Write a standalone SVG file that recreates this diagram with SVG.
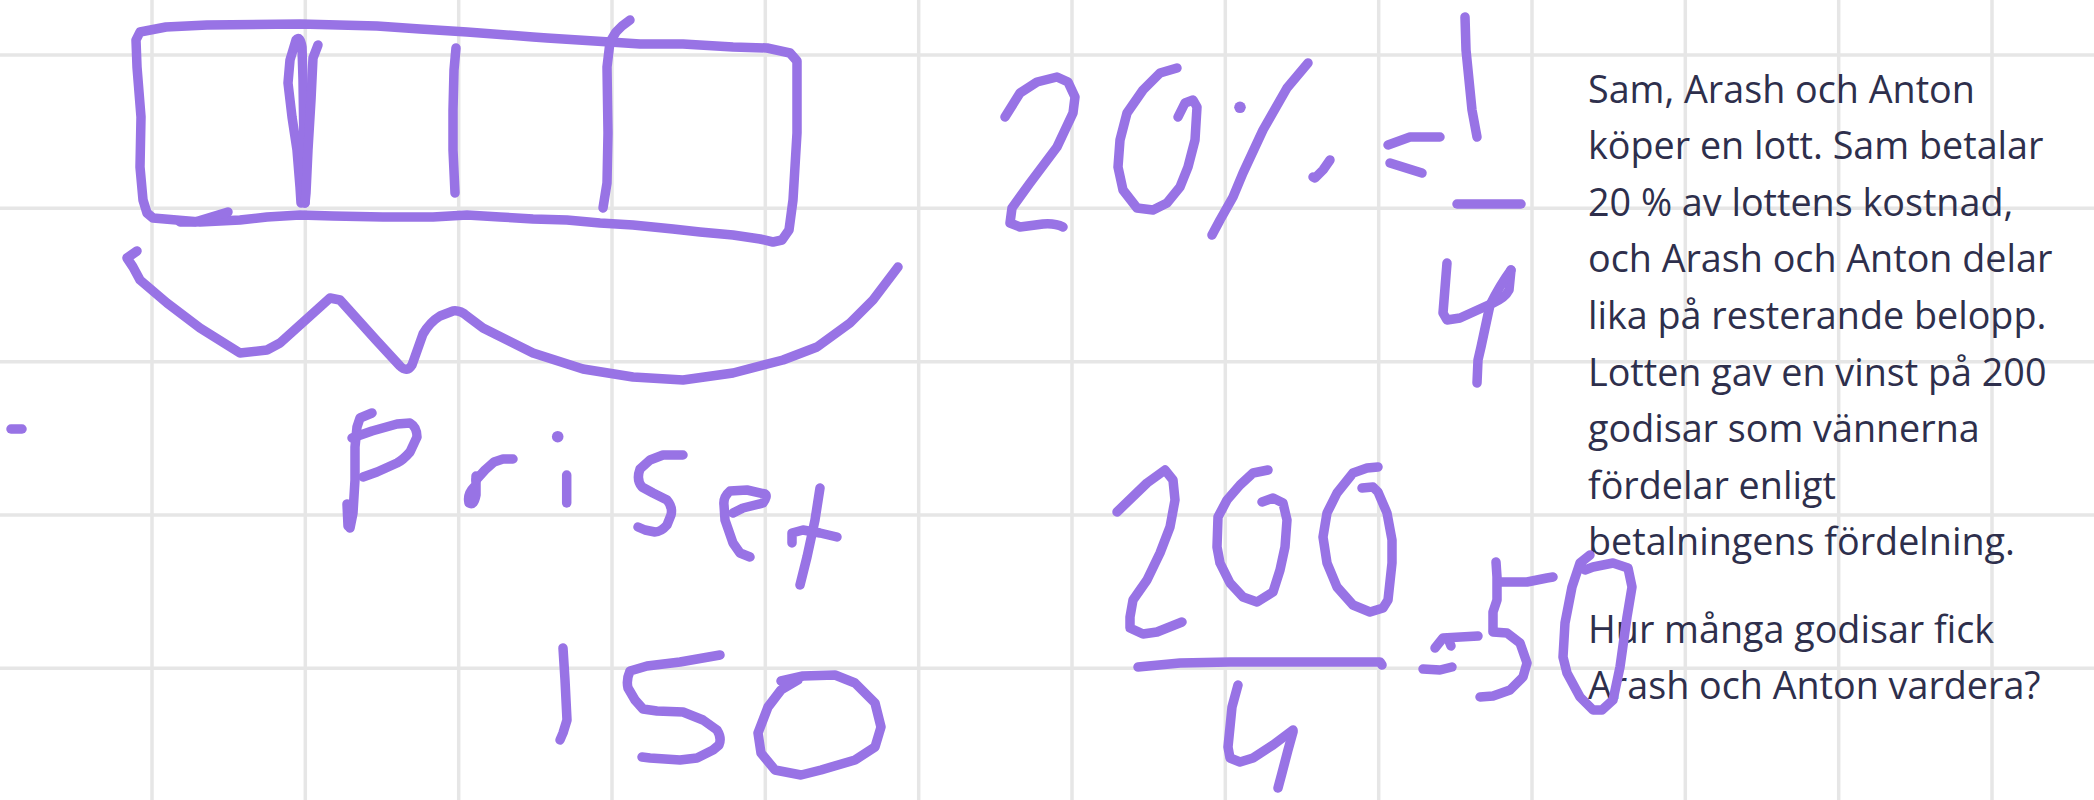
<svg xmlns="http://www.w3.org/2000/svg" width="2094" height="800" viewBox="0 0 2094 800">
<style>
.grid line{stroke:#e6e6e6;stroke-width:3.5}
.ink{fill:none;stroke:#9873e5;stroke-width:9.5;stroke-linecap:round;stroke-linejoin:round}
.dot{fill:#9873e5}
.q{font-family:"Open Sans","Noto Sans",sans-serif;font-size:37.7px;fill:#2e2f4c}
</style>
<rect width="2094" height="800" fill="#ffffff"/>
<g id="grid" class="grid">
<line x1="152" y1="0" x2="152" y2="800"/><line x1="305.3" y1="0" x2="305.3" y2="800"/><line x1="458.7" y1="0" x2="458.7" y2="800"/><line x1="612" y1="0" x2="612" y2="800"/><line x1="765.3" y1="0" x2="765.3" y2="800"/><line x1="918.7" y1="0" x2="918.7" y2="800"/><line x1="1072" y1="0" x2="1072" y2="800"/><line x1="1225.3" y1="0" x2="1225.3" y2="800"/><line x1="1378.7" y1="0" x2="1378.7" y2="800"/><line x1="1532" y1="0" x2="1532" y2="800"/><line x1="1685.3" y1="0" x2="1685.3" y2="800"/><line x1="1838.7" y1="0" x2="1838.7" y2="800"/><line x1="1992" y1="0" x2="1992" y2="800"/>
<line x1="0" y1="55" x2="2094" y2="55"/><line x1="0" y1="208.3" x2="2094" y2="208.3"/><line x1="0" y1="361.7" x2="2094" y2="361.7"/><line x1="0" y1="515" x2="2094" y2="515"/><line x1="0" y1="668.3" x2="2094" y2="668.3"/>
</g>
<g id="problem-text">
<text class="q" x="1588">
<tspan x="1588" y="102.5">Sam, Arash och Anton</tspan>
<tspan x="1588" y="159.1">köper en lott. Sam betalar</tspan>
<tspan x="1588" y="215.7">20 % av lottens kostnad,</tspan>
<tspan x="1588" y="272.3">och Arash och Anton delar</tspan>
<tspan x="1588" y="328.9">lika på resterande belopp.</tspan>
<tspan x="1588" y="385.5">Lotten gav en vinst på 200</tspan>
<tspan x="1588" y="442.1">godisar som vännerna</tspan>
<tspan x="1588" y="498.7">fördelar enligt</tspan>
<tspan x="1588" y="555.3">betalningens fördelning.</tspan>
<tspan x="1588" y="642.6">Hur många godisar fick</tspan>
<tspan x="1588" y="699.2">Arash och Anton vardera?</tspan>
</text>
</g>
<g id="bar-model" class="ink">
<path d="M166,27 L207,25 L300,24 L377,26 L420,29 L467,32 L533,37 L547,38 L610,42 L640,44 L683,44 L733,47 L767,48 L790,53 L797,61 L797,133 L793,200 L789,230 L782,240 L773,242 L760,239 L733,235 L700,232 L673,229 L633,225 L600,223 L567,220 L533,219 L500,217 L467,215 L433,217 L383,217 L333,216 L300,215 L267,217 L240,220 L200,222 L153,218 L147,213 L143,200 L140,167 L141,117 L137,67 L136,40 L140,32 L166,27"/>
<path d="M180,222 L195,222 L228,212"/>
<path d="M301,203 L300,187 L297,150 L292,117 L288,83 L290,60 L296,40 Q300,35 302,47 L303,80 L304,150 L305,203"/>
<path d="M318,45 L313,58 L311,100 L308,150 L306,193 L305,203"/>
<path d="M456,48 L454,70 L453,110 L453,150 L455,193"/>
<path d="M630,20 L622,26 L616,32 L610,42 L607,67 L608,133 L607,183 L603,208"/>
<path d="M137,251 L127,258 L133,267 L140,280 L167,303 L200,328 L240,353 L267,350 L280,343 L300,325 L330,298 L340,300 L376,340 L400,366 Q407,373 412,365 L423,334 Q430,322 440,316 L453,311 Q460,310 467,316 L483,328 L533,353 L583,369 L633,377 L683,380 L733,373 L783,360 L817,347 L850,323 L873,300 L898,267"/>
</g>
<g id="dot" class="ink"><path d="M11,429 L22,429"/></g>
<g id="word-priset" class="ink">
<path d="M372,413 L360,418 L357,427 L355,447 L355,480 L353,513 L350,528"/>
<path d="M347,504 L348,526"/>
<path d="M352,438 L372,431 L397,424 L410,423 Q417,427 417,437 L410,452 Q403,460 397,463 L377,472 L363,477"/>
<path d="M476,476 L476,495 Q474,506 469,503 Q467,494 474,487"/>
<path d="M476,480 L485,470 L494,462 L503,459 L513,459"/>
<circle class="dot" cx="557.7" cy="436.7" r="5.8" stroke="none"/>
<path d="M566.7,475 L566.7,503"/>
<path d="M683,455 L663,455 L650,460 L640,469 Q636,480 642,487 L653,493 L667,500 Q673,507 671,515 L667,525 Q661,532 655,532 L645,530 L638,527"/>
<path d="M733,513 L743,508 L763,503 Q768,496 765,494 L747,490 L730,491 Q723,497 724,505 L725,520 L733,543 L740,553 L750,557"/>
<path d="M820,488 L815,520 L807,557 L800,585"/>
<path d="M792,543 L792,533 L803,530 L820,533 L837,537"/>
</g>
<g id="number-150" class="ink">
<path d="M563,648 L565,680 L567,720 L563,733 L560,740"/>
<path d="M720,655 L680,662 L647,666 L630,671 Q626,680 628,688 L635,700 L643,709 L657,711 L683,712 L703,720 L717,730 Q722,738 719,745 L713,750 L697,758 L680,760 L650,758 L642,757"/>
<path d="M781,681 L803,676 L835,675 L855,683 L875,703 L881,727 L875,747 L855,760 L821,770 L801,775 L775,770 L761,753 L758,733 L768,707 L781,690 L798,680"/>
</g>
<g id="percent-equation" class="ink">
<path d="M1005,117 L1020,93 L1037,82 L1057,77 L1068,82 L1075,97 L1073,113 L1057,147 L1030,183 L1012,208 L1010,223 L1020,227 L1043,224 Q1055,223 1063,227"/>
<path d="M1177,68 L1160,73 L1143,90 L1127,113 L1120,140 L1118,167 L1123,190 L1137,208 L1153,210 L1167,203 L1180,187 L1188,167 L1195,140 L1197,107 L1193,100 L1185,103 L1178,117"/>
<circle class="dot" cx="1240" cy="107.3" r="5.8" stroke="none"/>
<path d="M1308,63 L1287,88 L1263,130 L1243,173 L1233,197 L1220,220 L1212,235"/>
<path d="M1330,160 L1323,170 L1315,178 L1313,177"/>
<path d="M1388,145 L1410,137 L1440,137"/>
<path d="M1390,163 L1422,173"/>
<path d="M1465,17 L1466,50 L1472,110 L1477,137"/>
<path d="M1457,204 L1521,204"/>
<path d="M1447,263 L1443,313 L1447,320 L1460,318 L1493,303 Q1505,298 1509,290 L1511,270"/>
<path d="M1511,270 Q1500,285 1490,305 L1481,347 L1478,360 L1477,383"/>
</g>
<g id="division-equation" class="ink">
<path d="M1117,512 L1147,483 L1165,470 L1173,480 L1175,500 L1170,527 L1160,553 L1147,580 L1133,600 L1130,617 L1130,628 L1143,634 L1157,632 L1182,622"/>
<path d="M1268,470 L1253,473 L1240,485 L1227,500 L1218,517 L1217,547 L1220,563 L1230,583 L1243,597 L1257,602 L1273,592 L1280,570 L1285,547 L1287,520 L1283,503 L1273,498 L1262,502"/>
<path d="M1378,467 L1367,468 L1353,473 L1337,493 L1327,513 L1323,537 L1327,563 L1337,587 L1353,605 L1370,612 L1383,608 L1388,600 L1392,563 L1392,540 L1387,513 L1378,492 L1373,487 L1362,488"/>
<path d="M1138,667 L1180,663 L1230,662 L1380,662 L1382,665"/>
<path d="M1238,685 L1232,707 L1228,747 L1230,758 L1240,762 L1253,758 L1273,745 L1293,730"/>
<path d="M1293,732 L1288,750 L1282,773 L1278,788"/>
<path d="M1435,648 L1443,638 L1478,636"/>
<path d="M1449,641 L1451,646"/>
<path d="M1423,669 L1440,670 L1452,667"/>
<path d="M1496,562 L1497,577 L1497,600 L1493,612 L1493,630"/>
<path d="M1500,582 L1527,582 L1547,578 L1553,577"/>
<path d="M1493,632 L1507,633 L1520,643 L1527,663 L1523,677 L1510,690 L1493,696 L1480,697"/>
<path d="M1590,555 L1580,563 L1572,587 L1565,623 L1563,657 L1567,673 L1580,697 L1593,710 L1602,710 L1613,700 L1620,667 L1627,617 L1632,587 L1628,568 L1613,563 L1593,567 L1585,570"/>
</g>
</svg>
